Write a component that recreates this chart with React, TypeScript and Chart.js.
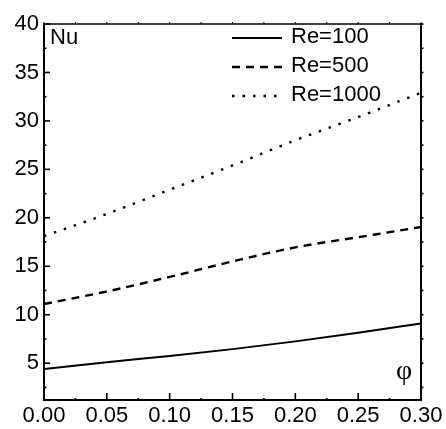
import React, { useEffect, useRef } from "react";
import { Chart, registerables } from "chart.js";

Chart.register(...registerables);

const phi = [0, 0.05, 0.1, 0.15, 0.2, 0.25, 0.3];
const nuRe100 = [4.4, 5.1, 5.75, 6.45, 7.25, 8.15, 9.1];
const nuRe500 = [11.1, 12.4, 13.9, 15.5, 16.95, 18.0, 19.05];
const nuRe1000 = [18.1, 20.4, 22.9, 25.4, 28.0, 30.4, 32.9];
const seriesLabels = ["Re=100", "Re=500", "Re=1000"];
const xTicks = [0, 0.05, 0.1, 0.15, 0.2, 0.25, 0.3];
const yTicks = [5, 10, 15, 20, 25, 30, 35, 40];
const xMinorTicks = [0.025, 0.075, 0.125, 0.175, 0.225, 0.275];
const yMinorTicks = [2.5, 7.5, 12.5, 17.5, 22.5, 27.5, 32.5, 37.5];
const yAxisTitle = "Nu";
const xAxisTitle = "φ";

const FONT = "'Liberation Sans', Arial, sans-serif";

const dashes = [[], [8, 6], [2.5, 8]];

const framePlugin = {
  id: "frame",
  afterDatasetsDraw(chart: any) {
    const { ctx, chartArea, scales } = chart;
    const { left, right, top, bottom } = chartArea;
    const xs = scales.x;
    const ys = scales.y;
    ctx.save();
    ctx.strokeStyle = "#000";
    ctx.setLineDash([]);
    const line = (x1: number, y1: number, x2: number, y2: number, w: number) => {
      ctx.lineWidth = w;
      ctx.beginPath();
      ctx.moveTo(x1, y1);
      ctx.lineTo(x2, y2);
      ctx.stroke();
    };
    // frame
    line(left - 1, top, right, top, 1.3);
    line(right, top, right, bottom + 1, 2);
    line(left, top - 1, left, bottom + 1, 2);
    line(left - 1, bottom, right + 1, bottom, 2);
    // bottom & top ticks
    xTicks.forEach((v) => {
      const p = xs.getPixelForValue(v);
      line(p, bottom, p, bottom - 7, 1.6);
      line(p, top, p, top - 2, 1);
    });
    xMinorTicks.forEach((v) => {
      const p = xs.getPixelForValue(v);
      line(p, bottom, p, bottom - 2, 1.6);
      line(p, top, p, top - 2, 1);
    });
    // left & right ticks
    yTicks.forEach((v) => {
      const p = ys.getPixelForValue(v);
      line(left, p, left + 6, p, 1.6);
      line(right, p, right + 2.5, p, 1.6);
    });
    yMinorTicks.forEach((v) => {
      const p = ys.getPixelForValue(v);
      line(left, p, left + 2.5, p, 1.6);
      line(right, p, right + 2.5, p, 1.6);
    });
    // axis titles
    ctx.fillStyle = "#000";
    ctx.font = `22px ${FONT}`;
    ctx.textAlign = "left";
    ctx.textBaseline = "alphabetic";
    ctx.fillText(yAxisTitle, left + 6, top + 20);
    ctx.font = `28px 'Liberation Serif', 'DejaVu Serif', serif`;
    ctx.textAlign = "center";
    ctx.fillText(xAxisTitle, right - 17, bottom - 21);
    // legend
    const lx1 = 232;
    const lx2 = 282;
    const rowY = [38, 67, 96];
    chart.data.datasets.forEach((ds: any, i: number) => {
      const y = rowY[i];
      ctx.lineWidth = ds.borderWidth;
      ctx.setLineDash(ds.borderDash || []);
      ctx.beginPath();
      ctx.moveTo(lx1, y);
      ctx.lineTo(lx2, y);
      ctx.stroke();
      ctx.setLineDash([]);
      ctx.font = `22px ${FONT}`;
      ctx.textAlign = "left";
      ctx.textBaseline = "alphabetic";
      ctx.fillText(ds.label, 291, y + 4.5);
    });
    ctx.restore();
  },
};

export default function App() {
  const ref = useRef<HTMLCanvasElement | null>(null);
  useEffect(() => {
    document.body.style.margin = "0";
    const seriesValues = [nuRe100, nuRe500, nuRe1000];
    const chart = new Chart(ref.current as HTMLCanvasElement, {
      type: "line",
      data: {
        datasets: seriesValues.map((vals, i) => ({
          label: seriesLabels[i],
          data: phi.map((x, j) => ({ x, y: vals[j] })),
          borderColor: "#000",
          borderWidth: i === 0 ? 2 : 2.4,
          borderDash: dashes[i],
          borderCapStyle: "butt" as const,
          pointRadius: 0,
          fill: false,
          cubicInterpolationMode: "monotone" as const,
        })),
      },
      options: {
        animation: false,
        responsive: true,
        maintainAspectRatio: false,
        layout: { padding: { top: 24, right: 25, left: 0, bottom: 0 } },
        plugins: { legend: { display: false }, tooltip: { enabled: false } },
        scales: {
          x: {
            type: "linear",
            min: 0,
            max: 0.3,
            grid: { display: false, drawTicks: false },
            border: { display: false },
            afterBuildTicks: (s: any) => {
              s.ticks = xTicks.map((v) => ({ value: v }));
            },
            afterFit: (s: any) => {
              s.height = 29;
            },
            ticks: {
              padding: 3,
              color: "#000",
              maxRotation: 0,
              autoSkip: false,
              font: { family: FONT, size: 22 },
              callback: (v: any) => Number(v).toFixed(2),
            },
          },
          y: {
            type: "linear",
            min: 1.2,
            max: 40,
            grid: { display: false, drawTicks: false },
            border: { display: false },
            afterBuildTicks: (s: any) => {
              s.ticks = yTicks.map((v) => ({ value: v }));
            },
            afterFit: (s: any) => {
              s.width = 44;
            },
            ticks: {
              padding: 5,
              color: "#000",
              autoSkip: false,
              font: { family: FONT, size: 22 },
              callback: (v: any) => String(v),
            },
          },
        },
      },
      plugins: [framePlugin],
    });
    return () => chart.destroy();
  }, []);
  return (
    <div style={{ width: 446, height: 429, position: "relative" }}>
      <canvas ref={ref} />
    </div>
  );
}
